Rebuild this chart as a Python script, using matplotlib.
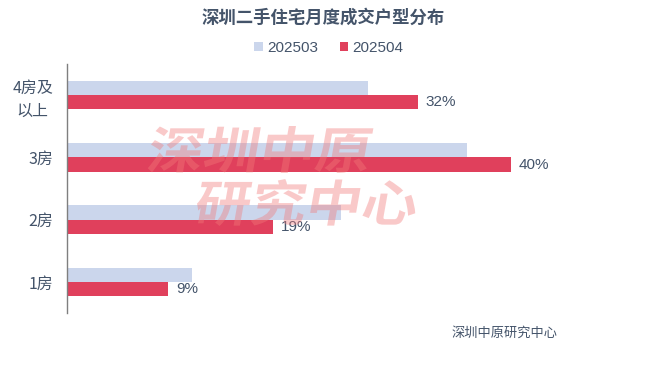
import numpy as np
import matplotlib.pyplot as plt
from matplotlib.font_manager import FontProperties
from matplotlib.textpath import TextPath
from matplotlib.patches import PathPatch
from matplotlib.transforms import Affine2D

plt.rcParams['font.family'] = ['Noto Sans CJK SC', 'DejaVu Sans']

# 数据
categories = ['4房及\n以上', '3房', '2房', '1房']
series_names = ['202503', '202504']
v_202503 = [27.1, 36.0, 24.7, 11.3]
v_202504 = [31.6, 40.0, 18.6, 9.1]

c_light = '#cbd6ec'
c_red = '#e0405c'
c_text = '#44546a'
num_font = 'Liberation Sans'

fig = plt.figure(figsize=(6.46, 3.76), dpi=100)
W, H = 646, 376
ax = fig.add_axes([67 / W, 1 - 313 / H, 555 / W, 249 / H])

y = np.arange(len(categories))
h = 0.23
ax.barh(y - h / 2, v_202503, height=h, color=c_light, label=series_names[0], zorder=2)
ax.barh(y + h / 2, v_202504, height=h, color=c_red, label=series_names[1], zorder=2)

for yi, v in zip(y, v_202504):
    ax.text(v + 0.7, yi + h / 2, f'{v:.0f}%', va='center', ha='left',
            fontsize=11, color=c_text, family=num_font)

ax.set_xlim(0, 50)
ax.set_ylim(len(categories) - 0.5, -0.5)
ax.set_yticks(y)
ax.set_yticklabels(categories, fontsize=11.5, color=c_text, linespacing=1.45,
                   multialignment='center')
ax.set_xticks([])
ax.tick_params(axis='y', length=0, pad=10)
for s in ['top', 'right', 'bottom']:
    ax.spines[s].set_visible(False)
ax.spines['left'].set_color('#7f7f7f')
ax.spines['left'].set_linewidth(1.0)

# 标题和图例
fig.text(0.5, 1 - 18 / H, '深圳二手住宅月度成交户型分布', ha='center', va='center',
         fontsize=12.5, fontweight='bold', color=c_text)
fig.legend(loc='center', bbox_to_anchor=(0.5 + 6 / W, 1 - 48 / H), ncol=2, frameon=False,
           handlelength=0.55, handleheight=0.55, handletextpad=0.3,
           columnspacing=1.4, labelcolor=c_text,
           prop={'family': num_font, 'size': 11})

fig.text(557 / W, 1 - 333 / H, '深圳中原研究中心', ha='right', va='center',
         fontsize=9.5, color=c_text)

# 水印
fp = FontProperties(family='Noto Sans CJK SC', weight='black')
wm = [('深圳中原', 146, H - 173), ('研究中心', 193, H - 226)]
for txt, x0, y0 in wm:
    tp = TextPath((0, 0), txt, size=50, prop=fp)
    bb = tp.get_extents()
    sx = 220 / bb.width
    sy = 47 / bb.height
    tr = Affine2D().translate(-bb.x0, -bb.y0).scale(sx, sy).skew_deg(10, 0).translate(x0, y0)
    patch = PathPatch(tr.transform_path(tp), facecolor='#f27a7a', edgecolor='none',
                      alpha=0.4, transform=None, zorder=5)
    fig.patches.append(patch)

fig.savefig('out.png', dpi=100)
